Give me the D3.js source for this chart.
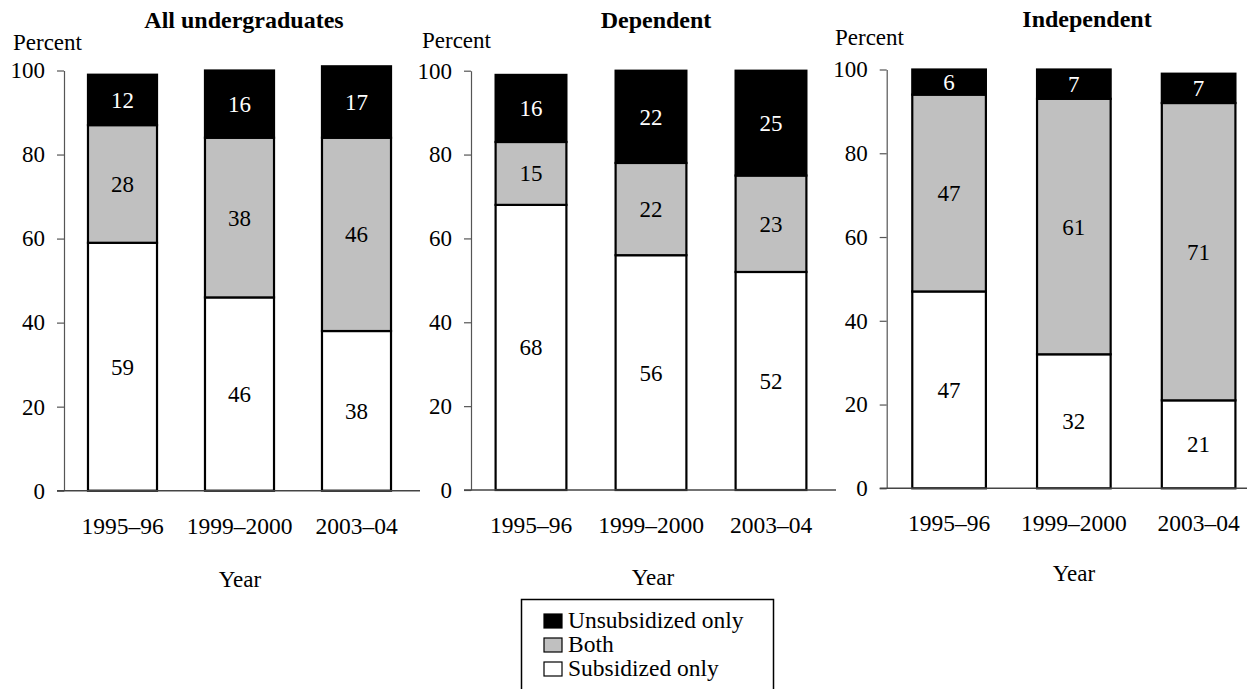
<!DOCTYPE html>
<html>
<head>
<meta charset="utf-8">
<script src="https://cdn.jsdelivr.net/npm/d3@7/dist/d3.min.js"></script>
<style>
  html, body { margin: 0; padding: 0; background: #fff; }
  svg { display: block; }
  text { font-family: "Liberation Serif", "Times New Roman", serif; }
</style>
</head>
<body>
<svg id="chart" width="1247" height="689"></svg>
<script>
// ---- data ----
const years = ["1995–96", "1999–2000", "2003–04"];
const panelTitles = ["All undergraduates", "Dependent", "Independent"];
const seriesNames = ["Subsidized only", "Both", "Unsubsidized only"];
const yTicks = [0, 20, 40, 60, 80, 100];

const allSubsidized = [59, 46, 38];
const allBoth = [28, 38, 46];
const allUnsubsidized = [12, 16, 17];

const depSubsidized = [68, 56, 52];
const depBoth = [15, 22, 23];
const depUnsubsidized = [16, 22, 25];

const indSubsidized = [47, 32, 21];
const indBoth = [47, 61, 71];
const indUnsubsidized = [6, 7, 7];

const panelData = [
  [allSubsidized, allBoth, allUnsubsidized],
  [depSubsidized, depBoth, depUnsubsidized],
  [indSubsidized, indBoth, indUnsubsidized]
];

// ---- layout ----
const fills = ["#ffffff", "#c0c0c0", "#000000"];
const labelColors = ["#000", "#000", "#fff"];
const layout = [
  { x0: 64,  x1: 415,  y0: 490.7, y100: 70.5, titleX: 244,  titleY: 28, pctX: 13,  pctY: 50, tickY: 534, yearX: 240,  yearY: 587, axEnd: 420 },
  { x0: 471, x1: 831,  y0: 490,   y100: 70.7, titleX: 656,  titleY: 28, pctX: 422, pctY: 48, tickY: 533, yearX: 653,  yearY: 585, axEnd: 836 },
  { x0: 886.7, x1: 1261, y0: 488.3, y100: 69.5, titleX: 1087, titleY: 27, pctX: 835, pctY: 45, tickY: 531, yearX: 1074, yearY: 581, axEnd: 1247 }
];

const svg = d3.select("#chart");
const FS = 23;

panelData.forEach((series, p) => {
  const L = layout[p];
  const g = svg.append("g");
  const x = d3.scaleBand().domain(years).range([L.x0, L.x1]).paddingInner(0.41).paddingOuter(0.205);
  const y = d3.scaleLinear().domain([0, 100]).range([L.y0, L.y100]);

  // stacked data
  const rows = years.map((yr, i) => {
    const r = { year: yr };
    seriesNames.forEach((s, k) => r[s] = series[k][i]);
    return r;
  });
  const stack = d3.stack().keys(seriesNames)(rows);

  // bars
  stack.forEach((layer, k) => {
    g.selectAll(null).data(layer).enter().append("rect")
      .attr("x", d => x(d.data.year))
      .attr("y", d => y(d[1]))
      .attr("width", x.bandwidth())
      .attr("height", d => y(d[0]) - y(d[1]))
      .attr("fill", fills[k])
      .attr("stroke", "#000")
      .attr("stroke-width", 2.2);
  });
  // value labels
  stack.forEach((layer, k) => {
    g.selectAll(null).data(layer).enter().append("text")
      .attr("x", d => x(d.data.year) + x.bandwidth() / 2)
      .attr("y", d => (y(d[0]) + y(d[1])) / 2)
      .attr("dy", "0.35em")
      .attr("text-anchor", "middle")
      .attr("font-size", FS)
      .attr("fill", labelColors[k])
      .text(d => d[1] - d[0]);
  });

  // y axis
  const yAxis = d3.axisLeft(y).tickValues(yTicks).tickSize(7).tickSizeOuter(0).tickPadding(12);
  const ga = g.append("g").attr("transform", `translate(${L.x0},0)`).call(yAxis);
  ga.select(".domain").attr("stroke", "#555").attr("stroke-width", 1.2);
  ga.selectAll(".tick line").attr("stroke", "#555").attr("stroke-width", 1.2);
  ga.selectAll(".tick text").attr("font-size", FS).attr("font-family", "Liberation Serif").attr("fill", "#000");

  // x axis line
  g.append("line")
    .attr("x1", L.x0 - 7).attr("x2", L.axEnd)
    .attr("y1", L.y0).attr("y2", L.y0)
    .attr("stroke", "#444").attr("stroke-width", 1.5);

  // x tick labels
  g.selectAll(null).data(years).enter().append("text")
    .attr("x", d => x(d) + x.bandwidth() / 2)
    .attr("y", L.tickY)
    .attr("text-anchor", "middle")
    .attr("font-size", 23.5)
    .text(d => d);

  // title
  g.append("text").attr("x", L.titleX).attr("y", L.titleY)
    .attr("text-anchor", "middle").attr("font-size", 24).attr("font-weight", "bold")
    .text(panelTitles[p]);
  // Percent
  g.append("text").attr("x", L.pctX).attr("y", L.pctY)
    .attr("font-size", FS).text("Percent");
  // Year
  g.append("text").attr("x", L.yearX).attr("y", L.yearY)
    .attr("text-anchor", "middle").attr("font-size", FS).text("Year");
});

// legend
const legendItems = ["Unsubsidized only", "Both", "Subsidized only"];
const legendFills = ["#000000", "#c0c0c0", "#ffffff"];
const lg = svg.append("g");
lg.append("rect").attr("x", 521.5).attr("y", 599.5).attr("width", 252).attr("height", 100)
  .attr("fill", "#fff").attr("stroke", "#000").attr("stroke-width", 1.5);
legendItems.forEach((name, i) => {
  const cy = 621 + i * 24;
  lg.append("rect").attr("x", 544).attr("y", cy - 7).attr("width", 18).attr("height", 14)
    .attr("fill", legendFills[i]).attr("stroke", "#000").attr("stroke-width", 1.2);
  lg.append("text").attr("x", 568).attr("y", cy + 7).attr("font-size", 23.5).text(name);
});
</script>
</body>
</html>
